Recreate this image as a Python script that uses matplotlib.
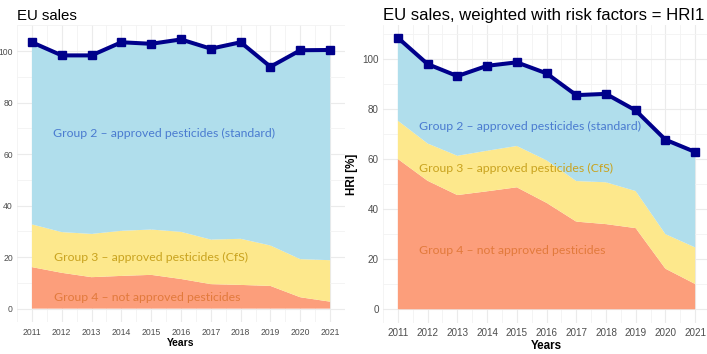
import numpy as np
import matplotlib
matplotlib.use("Agg")
import matplotlib.pyplot as plt
from matplotlib.ticker import MultipleLocator

# ================== DATA ==================
years = [2011, 2012, 2013, 2014, 2015, 2016, 2017, 2018, 2019, 2020, 2021]

# EU sales (index, %)
sales_g4 = [16.1, 13.9, 12.2, 12.7, 13.1, 11.5, 9.5, 9.2, 8.8, 4.4, 2.7]
sales_g3 = [16.6, 15.8, 16.8, 17.5, 17.6, 18.3, 17.3, 17.9, 15.7, 14.8, 16.1]
sales_g2 = [70.7, 68.6, 69.3, 73.2, 72.1, 74.7, 74.1, 76.3, 69.4, 81.1, 81.6]

# EU sales weighted with risk factors (HRI1, %)
hri_g4 = [60.0, 51.3, 45.6, 47.1, 48.7, 42.5, 35.0, 34.0, 32.4, 16.2, 10.1]
hri_g3 = [15.3, 14.9, 15.7, 16.2, 16.5, 17.0, 16.2, 16.7, 14.8, 13.8, 14.6]
hri_g2 = [33.1, 31.7, 31.8, 33.9, 33.4, 34.7, 34.3, 35.3, 32.2, 37.7, 38.1]

labels = ["Group 4 \u2013 not approved pesticides",
          "Group 3 \u2013 approved pesticides (CfS)",
          "Group 2 \u2013 approved pesticides (standard)"]
# ==========================================

fill_cols = ["#FC9E7B", "#FDE88C", "#B0DEEC"]
text_cols = ["#E27A3C", "#C9A31F", "#4A7BD0"]
line_col = "#00008B"
grid_col = "#EBEBEB"
tick_col = "#4D4D4D"

W, H = 707, 354
fig = plt.figure(figsize=(W / 100, H / 100), dpi=100)
fig.patch.set_facecolor("white")


def fx(px):
    return px / W


def fy(py):
    return 1 - py / H


def make_panel(left, right, top, bottom, g4, g3, g2, ylim, title, title_fs,
               tick_fs, xlab_fs, tick_pad, label_pos, ylabel=None):
    ax = fig.add_axes([fx(left), fy(bottom), fx(right - left), (bottom - top) / H])
    ax.set_facecolor("white")
    for s in ax.spines.values():
        s.set_visible(False)

    ax.stackplot(years, g4, g3, g2, colors=fill_cols, lw=0, zorder=2)
    total = np.array(g4) + np.array(g3) + np.array(g2)
    ax.plot(years, total, color=line_col, lw=2.9, marker="s", ms=6,
            zorder=4, solid_joinstyle="round")

    ax.set_xlim(2010.5, 2021.5)
    ax.set_ylim(*ylim)
    ax.set_xticks(years)
    ax.xaxis.set_minor_locator(MultipleLocator(0.5))
    ax.yaxis.set_major_locator(MultipleLocator(20))
    ax.yaxis.set_minor_locator(MultipleLocator(10))
    ax.grid(which="major", color=grid_col, lw=0.8, zorder=0)
    ax.grid(which="minor", color="#F3F3F3", lw=0.6, zorder=0)
    ax.set_axisbelow(True)
    ax.tick_params(which="both", length=0, labelsize=tick_fs,
                   labelcolor=tick_col)
    ax.tick_params(axis="y", pad=tick_pad)
    ax.tick_params(axis="x", pad=4)
    for lab in ax.get_xticklabels() + ax.get_yticklabels():
        lab.set_fontfamily("Liberation Sans")

    ax.set_xlabel("Years", fontsize=xlab_fs, fontweight="bold",
                  fontfamily="Liberation Sans", labelpad=1)
    if ylabel:
        ax.set_ylabel(ylabel, fontsize=xlab_fs, fontweight="bold",
                      fontfamily="Liberation Sans", labelpad=3)

    for (tx, ty), lab, col in zip(label_pos, labels, text_cols):
        ax.text(tx, ty, lab, color=col, fontsize=8.85, fontfamily="Lato",
                ha="left", va="center", zorder=5)

    fig.text(fx(left), fy(20), title, fontsize=title_fs,
             fontfamily="Liberation Sans", ha="left", va="baseline")
    return ax


make_panel(17, 345, 25, 322, sales_g4, sales_g3, sales_g2, (-5.2, 110.1),
           "EU sales", 10.8, 6.2, 7.4, 3,
           [(2011.75, 4.5), (2011.75, 19.7), (2011.7, 68)])

make_panel(383, 710, 25, 322.8, hri_g4, hri_g3, hri_g2, (-5.4, 113.5),
           "EU sales, weighted with risk factors = HRI1", 12.1, 7.1, 8.4, 3,
           [(2011.7, 23.3), (2011.7, 56.3), (2011.7, 73.0)],
           ylabel="HRI [%]")

fig.savefig("out.png", dpi=100, facecolor="white")
